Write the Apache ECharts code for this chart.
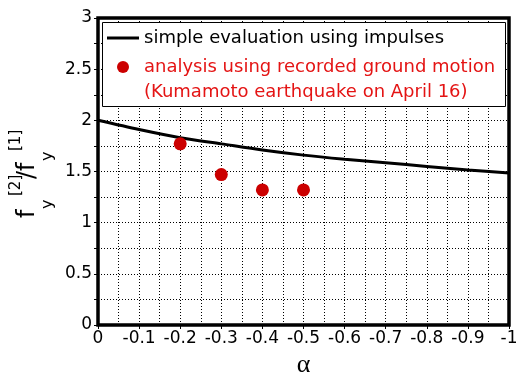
<!DOCTYPE html>
<html>
<head>
<meta charset="utf-8">
<script src="https://cdn.jsdelivr.net/npm/echarts@6/dist/echarts.min.js"></script>
<style>html,body{margin:0;padding:0;background:#fff;}#c{width:522px;height:372px;}</style>
</head>
<body>
<div id="c"></div>
<script>
var alphaLine = [0, -0.1, -0.2, -0.3, -0.4, -0.5, -0.6, -0.7, -0.8, -0.9, -1.0];
var ratioLine = [2.0, 1.91, 1.83, 1.77, 1.71, 1.66, 1.62, 1.585, 1.55, 1.515, 1.485];
var alphaPts = [-0.2, -0.3, -0.4, -0.5];
var ratioPts = [1.77, 1.47, 1.32, 1.32];
var seriesNames = ['simple evaluation using impulses', 'analysis using recorded ground motion'];
var legendExtra = '(Kumamoto earthquake on April 16)';
var xLabelName = 'α';

var FONT = '"DejaVu Sans", "Liberation Sans", Arial, sans-serif';
var RED_TEXT = '#e41414';
var RED_DOT = '#cc0000';

var chart = echarts.init(document.getElementById('c'));
var gridStyle = {show: true, lineStyle: {color: '#000', width: 1, type: [1, 2]}};
var option = {
  animation: false,
  backgroundColor: '#fff',
  grid: {left: 98, right: 13, top: 18, bottom: 47, outerBoundsMode: 'none', containLabel: false, show: true, borderColor: '#000', borderWidth: 3.5, backgroundColor: 'transparent', z: 1},
  xAxis: [{
    type: 'value', min: -1, max: 0, interval: 0.1, inverse: true,
    name: xLabelName, nameLocation: 'middle', nameGap: 23,
    nameTextStyle: {fontFamily: '"Liberation Serif", "DejaVu Serif", serif', fontSize: 26, color: '#000'},
    axisLine: {show: false}, axisTick: {show: false},
    axisLabel: {fontFamily: FONT, fontSize: 17, color: '#000', margin: 5},
    splitLine: gridStyle,
    minorTick: {show: false, splitNumber: 2},
    minorSplitLine: gridStyle
  }, {
    type: 'value', min: -1, max: 0, interval: 0.1, inverse: true, position: 'top',
    axisLine: {show: false}, axisLabel: {show: false}, splitLine: {show: false},
    axisTick: {show: true, inside: true, length: 4, lineStyle: {color: '#000', width: 1}}
  }],
  yAxis: [{
    type: 'value', min: 0, max: 3, interval: 0.5,
    axisLine: {show: false}, axisTick: {show: false},
    axisLabel: {fontFamily: FONT, fontSize: 17, color: '#000', margin: 6},
    splitLine: gridStyle,
    minorTick: {show: false, splitNumber: 2},
    minorSplitLine: gridStyle
  }, {
    type: 'value', min: 0, max: 3, interval: 0.25, position: 'right',
    axisLine: {show: false}, axisLabel: {show: false}, splitLine: {show: false},
    axisTick: {show: true, inside: true, length: 4, lineStyle: {color: '#000', width: 1}}
  }],
  legend: {
    left: 102, top: 22, orient: 'vertical', z: 10,
    padding: [6, 6, 6, 5], itemGap: 9, itemWidth: 32, itemHeight: 12,
    textStyle: {fontFamily: FONT, fontSize: 18, lineHeight: 20, color: '#000'},
    data: [
      {name: seriesNames[0], icon: 'path://M0,0 L32,0 L32,3 L0,3 Z', textStyle: {color: '#000'}},
      {name: seriesNames[1], icon: 'circle', textStyle: {color: RED_TEXT}}
    ]
  },
  graphic: [
    {type: 'rect', z: 3, shape: {x: 102.5, y: 22.5, width: 403, height: 84}, style: {fill: '#fff', stroke: '#000', lineWidth: 1}},
    {type: 'text', z: 11, x: 144, y: 92, style: {text: legendExtra, font: '18px ' + FONT, fill: RED_TEXT, textAlign: 'left', textVerticalAlign: 'middle'}},
    {type: 'text', z: 11, x: 28, y: 218, rotation: Math.PI / 2, style: {text: 'f', font: '24px ' + FONT, fill: '#000', textAlign: 'left', textVerticalAlign: 'middle'}},
    {type: 'text', z: 11, x: 48, y: 209, rotation: Math.PI / 2, style: {text: 'y', font: '16px ' + FONT, fill: '#000', textAlign: 'left', textVerticalAlign: 'middle'}},
    {type: 'text', z: 11, x: 16, y: 196, rotation: Math.PI / 2, style: {text: '[2]', font: '15px ' + FONT, fill: '#000', textAlign: 'left', textVerticalAlign: 'middle'}},
    {type: 'text', z: 11, x: 28, y: 179, rotation: Math.PI / 2, style: {text: '/f', font: '24px ' + FONT, fill: '#000', textAlign: 'left', textVerticalAlign: 'middle'}},
    {type: 'text', z: 11, x: 48, y: 161, rotation: Math.PI / 2, style: {text: 'y', font: '16px ' + FONT, fill: '#000', textAlign: 'left', textVerticalAlign: 'middle'}},
    {type: 'text', z: 11, x: 16, y: 151, rotation: Math.PI / 2, style: {text: '[1]', font: '15px ' + FONT, fill: '#000', textAlign: 'left', textVerticalAlign: 'middle'}}
  ],
  series: [{
    name: seriesNames[0], type: 'line', symbol: 'none', smooth: 0.3, z: 5,
    lineStyle: {color: '#000', width: 3}, itemStyle: {color: '#000'},
    data: alphaLine.map(function (a, i) { return [a, ratioLine[i]]; })
  }, {
    name: seriesNames[1], type: 'scatter', symbol: 'circle', symbolSize: 13, z: 6,
    itemStyle: {color: RED_DOT, opacity: 1},
    data: alphaPts.map(function (a, i) { return [a, ratioPts[i]]; })
  }]
};
chart.setOption(option);
</script>
</body>
</html>
